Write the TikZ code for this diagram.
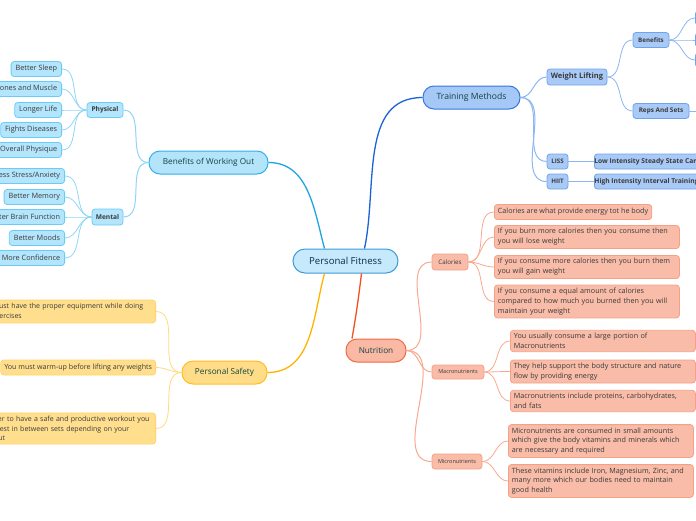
\documentclass[tikz,border=0pt]{standalone}
\usepackage{fontspec}
\setmainfont{Open Sans}
\usetikzlibrary{positioning}
\usetikzlibrary{calc}

\definecolor{cfill}{HTML}{C6EAFB}
\definecolor{cdraw}{HTML}{3D9BD6}
\definecolor{ctext}{HTML}{0D2A4F}
\definecolor{htext}{HTML}{11443F}
\definecolor{ltext}{HTML}{3A3A3A}
\definecolor{bwline}{HTML}{1FA3E3}
\definecolor{bwfill}{HTML}{B3E4FA}
\definecolor{bwdraw}{HTML}{2FB0EC}
\definecolor{bwleaf}{HTML}{B3E5FC}
\definecolor{bwldraw}{HTML}{6CCBF5}
\definecolor{bwconn}{HTML}{8ED6F7}
\definecolor{tmline}{HTML}{1863D6}
\definecolor{tmfill}{HTML}{A6C8F6}
\definecolor{tmdraw}{HTML}{3477E0}
\definecolor{tmleaf}{HTML}{A9CAF7}
\definecolor{tmldraw}{HTML}{6EA3EE}
\definecolor{tmconn}{HTML}{8DB6F2}
\definecolor{psline}{HTML}{FFB300}
\definecolor{psfill}{HTML}{FFDD88}
\definecolor{psdraw}{HTML}{FFBE1A}
\definecolor{psleaf}{HTML}{FFDF8E}
\definecolor{psldraw}{HTML}{FFD56B}
\definecolor{psconn}{HTML}{FFD97F}
\definecolor{nuline}{HTML}{F2511F}
\definecolor{nufill}{HTML}{F9B9A4}
\definecolor{nudraw}{HTML}{EF6A43}
\definecolor{nuleaf}{HTML}{F8BCA8}
\definecolor{nuldraw}{HTML}{F6A086}
\definecolor{nuconn}{HTML}{F8A88E}

\tikzset{
  topic/.style={rectangle, rounded corners=11pt, line width=1pt, text=htext,
    font=\fontsize{8.2}{9}\selectfont, inner sep=0pt},
  sub/.style={rectangle, rounded corners=3pt, line width=0.8pt, text=ltext,
    font=\fontsize{7.2}{8}\selectfont, inner xsep=4pt, inner sep=0pt, minimum height=15pt},
  bwsub/.style={sub, font=\fontsize{7.3}{8}\selectfont, inner xsep=4.5pt},
  leaf/.style={sub, align=left, inner ysep=3pt, inner xsep=3.5pt},
  longleaf/.style={leaf, text width=178pt, font=\fontsize{7.2}{9.8}\selectfont},
  psleaf/.style={longleaf, text width=174pt, font=\fontsize{7}{9.8}\selectfont},
  bwn/.style={fill=bwleaf, draw=bwldraw},
  tmn/.style={fill=tmleaf, draw=tmldraw},
  psn/.style={fill=psleaf, draw=psldraw},
  nun/.style={fill=nuleaf, draw=nuldraw},
  conn/.style={line width=0.8pt},
}

\begin{document}
\begin{tikzpicture}[x=1pt, y=-1pt]
\clip (0,0) rectangle (696,520);

\node[rectangle, rounded corners=12pt, fill=cfill, draw=cdraw, line width=1pt, text=ctext,
  font=\fontsize{9.6}{10}\selectfont, minimum width=105pt, minimum height=24pt] (PF) at (345.5,261) {Personal Fitness};

\node[topic, fill=bwfill, draw=bwdraw, minimum width=119pt, minimum height=23pt] (BW) at (208.5,162.5) {Benefits of Working Out};
\node[topic, fill=tmfill, draw=tmdraw, font=\fontsize{8.6}{9}\selectfont, minimum width=97pt, minimum height=23pt] (TM) at (471.5,97.5) {Training Methods};
\node[topic, fill=psfill, draw=psdraw, minimum width=85pt, minimum height=23pt] (PS) at (224.5,372.5) {Personal Safety};
\node[topic, fill=nufill, draw=nudraw, minimum width=60pt, minimum height=23pt] (NU) at (376,350.5) {Nutrition};

\draw[bwline, line width=1.3pt] ([xshift=-21pt]PF.north) to[out=105, in=0] (BW.east);
\draw[tmline, line width=1.3pt] ([xshift=19pt]PF.north) to[out=78, in=180] (TM.west);
\draw[psline, line width=1.3pt] ([xshift=-21pt]PF.south) to[out=-105, in=0] (PS.east);
\draw[nuline, line width=1.3pt] ([xshift=16pt]PF.south) to[out=-97, in=80] ([xshift=-24pt]NU.north);

% benefits of working out
\node[sub, bwn, font=\fontsize{6.6}{8}\bfseries, minimum width=36pt] (PH) at (105,110) {Physical};
\node[sub, bwn, font=\fontsize{6.6}{8}\bfseries, minimum width=31pt, minimum height=16pt] (ME) at (107.5,217) {Mental};
\draw[bwconn, line width=1pt] (BW.west) to[out=180, in=0] (PH.east);
\draw[bwconn, line width=1pt] (BW.west) to[out=180, in=0] (ME.east);

\node[bwsub, bwn, anchor=east] (P1) at (62,69) {Better Sleep};
\node[bwsub, bwn, anchor=east] (P2) at (62,89) {Stronger Bones and Muscle};
\node[bwsub, bwn, anchor=east] (P3) at (62,110) {Longer Life};
\node[bwsub, bwn, anchor=east] (P4) at (62,130) {Fights Diseases};
\node[bwsub, bwn, anchor=east] (P5) at (62,150) {Improves Overall Physique};
\foreach \n in {P1,P2,P3,P4,P5}
  \draw[bwconn, conn] (PH.west) to[out=180, in=0] (\n.east);

\node[bwsub, bwn, anchor=east] (M1) at (65,176) {Less Stress/Anxiety};
\node[bwsub, bwn, anchor=east] (M2) at (65,197) {Better Memory};
\node[bwsub, bwn, anchor=east] (M3) at (65,217) {Better Brain Function};
\node[bwsub, bwn, anchor=east] (M4) at (65,238) {Better Moods};
\node[bwsub, bwn, anchor=east] (M5) at (65,258) {Have More Confidence};
\foreach \n in {M1,M2,M3,M4,M5}
  \draw[bwconn, conn] (ME.west) to[out=180, in=0] (\n.east);

% training methods
\node[sub, tmn, font=\fontsize{7.5}{8}\bfseries, minimum width=60pt, minimum height=16pt] (WL) at (577,77) {Weight Lifting};
\node[sub, tmn, font=\fontsize{6.2}{8}\bfseries, minimum width=36pt] (BE) at (651,40) {Benefits};
\node[sub, tmn, font=\fontsize{6.4}{8}\bfseries, minimum width=56pt] (RS) at (661,111) {Reps And Sets};
\node[sub, tmn, font=\fontsize{6.2}{8}\bfseries, minimum width=21pt] (LI) at (557.5,161.5) {LISS};
\node[sub, tmn, font=\fontsize{6.2}{8}\bfseries, minimum width=21pt] (HI) at (557.5,181.5) {HIIT};
\node[sub, tmn, font=\fontsize{6.7}{8}\bfseries, anchor=west] (LO) at (594,161.5) {Low Intensity Steady State Cardio};
\node[sub, tmn, font=\fontsize{6.7}{8}\bfseries, anchor=west] (HG) at (594,181.5) {High Intensity Interval Training};
\foreach \n/\y in {B1/18,B2/40,B3/60}
  \node[sub, tmn, anchor=west, minimum width=40pt, minimum height=14pt] (\n) at (695,\y) {};
\node[sub, tmn, anchor=west, minimum width=40pt] (R1) at (697,111) {};

\draw[tmconn, line width=1pt] (TM.east) to[out=0, in=180] (WL.west);
\draw[tmconn, line width=1pt] (TM.east) to[out=0, in=180] (LI.west);
\draw[tmconn, line width=1pt] (TM.east) to[out=0, in=180] (HI.west);
\draw[tmconn, conn] (WL.east) to[out=0, in=180] (BE.west);
\draw[tmconn, conn] (WL.east) to[out=0, in=180] (RS.west);
\foreach \n in {B1,B2,B3}
  \draw[tmconn, conn] (BE.east) to[out=0, in=180] (\n.west);
\draw[tmconn, conn] (RS.east) -- (R1.west);
\draw[tmconn, conn] (LI.east) -- (LO.west);
\draw[tmconn, conn] (HI.east) -- (HG.west);

% personal safety
\node[psleaf, psn, anchor=east] (S1) at (156,311.5) {You must have the proper equipment while doing\\any exercises};
\node[leaf, psn, anchor=east, font=\fontsize{7.1}{8}\selectfont] (S2) at (156,367.5) {You must warm-up before lifting any weights};
\node[psleaf, psn, anchor=east] (S3) at (156,428.5) {In order to have a safe and productive workout you\\must rest in between sets depending on your\\workout};
\foreach \n in {S1,S2,S3}
  \draw[psconn, conn] (PS.west) to[out=180, in=0] (\n.east);

% nutrition
\node[sub, nun, font=\fontsize{6.2}{8}\selectfont, minimum width=36pt, minimum height=16pt] (CA) at (450,262) {Calories};
\node[sub, nun, font=\fontsize{5.5}{8}\selectfont, minimum width=52pt, minimum height=14pt] (MA) at (458,372) {Macronutrients};
\node[sub, nun, font=\fontsize{5.5}{8}\selectfont, minimum width=50pt] (MI) at (457,461.5) {Micronutrients};
\foreach \n in {CA,MA,MI}
  \draw[nuconn, line width=1pt] (NU.east) to[out=0, in=180] (\n.west);

\node[leaf, nun, anchor=west, font=\fontsize{7.2}{8}\selectfont] (C1) at (494,212) {Calories are what provide energy tot he body};
\node[longleaf, nun, anchor=west] (C2) at (494,237) {If you burn more calories then you consume then\\you will lose weight};
\node[longleaf, nun, anchor=west] (C3) at (494,267) {If you consume more calories then you burn them\\you will gain weight};
\node[longleaf, nun, anchor=west] (C4) at (494,301.5) {If you consume a equal amount of calories\\compared to how much you burned then you will\\maintain your weight};
\foreach \n in {C1,C2,C3,C4}
  \draw[nuconn, conn] (CA.east) to[out=0, in=180] (\n.west);

\node[longleaf, nun, anchor=west] (A1) at (510,341) {You usually consume a large portion of\\Macronutrients};
\node[longleaf, nun, anchor=west] (A2) at (510,371.5) {They help support the body structure and nature\\flow by providing energy};
\node[longleaf, nun, anchor=west] (A3) at (510,401) {Macronutrients include proteins, carbohydrates,\\and fats};
\foreach \n in {A1,A2,A3}
  \draw[nuconn, conn] (MA.east) to[out=0, in=180] (\n.west);

\node[longleaf, nun, anchor=west] (I1) at (508,441) {Micronutrients are consumed in small amounts\\which give the body vitamins and minerals which\\are necessary and required};
\node[longleaf, nun, anchor=west] (I2) at (508,481) {These vitamins include Iron, Magnesium, Zinc, and\\many more which our bodies need to maintain\\good health};
\foreach \n in {I1,I2}
  \draw[nuconn, conn] (MI.east) to[out=0, in=180] (\n.west);
\end{tikzpicture}
\end{document}
